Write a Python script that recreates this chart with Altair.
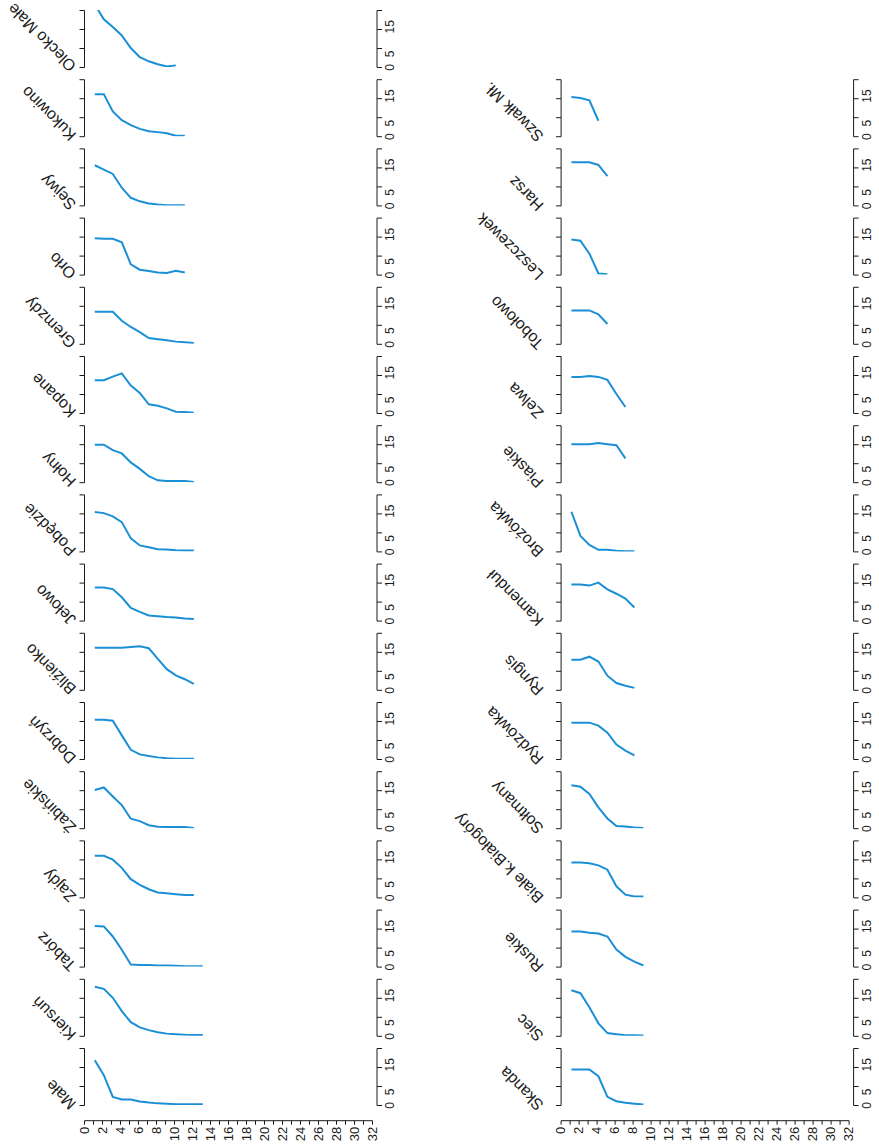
import altair as alt
import pandas as pd

# Oxygen-depth profiles for two groups of lakes (depth in m, one value per metre)
LEFT_LAKES = [
    "Olecko Małe", "Kukowino", "Sejwy", "Orło", "Gremzdy", "Kopane", "Hołny",
    "Pobędzie", "Jełowo", "Bliźienko", "Dobrzyń", "Żabińskie", "Zajdy",
    "Tabórz", "Kiersuń", "Małe",
]
LEFT_PROFILES = [
    [23.0, 17.6, 14.7, 11.6, 7.0, 3.6, 2.1, 1.0, 0.2, 0.6],
    [15.5, 15.5, 9.1, 5.9, 4.1, 2.7, 1.8, 1.5, 1.1, 0.2, 0.2],
    [14.8, 13.2, 11.6, 6.5, 2.8, 1.5, 0.7, 0.3, 0.1, 0.1, 0.1],
    [13.4, 13.2, 13.2, 11.9, 3.8, 1.8, 1.3, 0.8, 0.6, 1.4, 0.8],
    [11.8, 11.8, 11.8, 8.5, 6.2, 4.3, 2.1, 1.7, 1.3, 0.8, 0.6, 0.3],
    [12.1, 12.1, 13.4, 14.6, 10.1, 7.4, 3.2, 2.7, 1.7, 0.5, 0.4, 0.1],
    [13.8, 13.8, 11.8, 10.6, 7.3, 4.9, 2.2, 0.7, 0.4, 0.4, 0.4, 0.1],
    [14.5, 14.1, 12.9, 10.8, 4.8, 2.2, 1.5, 0.8, 0.7, 0.4, 0.3, 0.3],
    [12.2, 12.2, 11.6, 8.6, 4.7, 3.2, 1.9, 1.6, 1.3, 1.1, 0.8, 0.6],
    [15.5, 15.5, 15.5, 15.5, 15.8, 16.0, 15.3, 11.4, 7.6, 5.3, 3.9, 2.2],
    [14.5, 14.5, 14.1, 8.7, 3.4, 1.7, 1.1, 0.6, 0.3, 0.1, 0.1, 0.1],
    [14.1, 15.0, 11.7, 8.5, 3.5, 2.6, 1.1, 0.5, 0.4, 0.4, 0.4, 0.1],
    [15.3, 15.3, 13.9, 10.9, 6.7, 4.6, 3.0, 1.8, 1.5, 1.2, 0.9, 0.9],
    [15.0, 14.8, 11.1, 6.2, 0.8, 0.6, 0.6, 0.4, 0.4, 0.3, 0.1, 0.1, 0.1],
    [18.1, 17.3, 14.0, 9.1, 5.0, 3.1, 2.1, 1.3, 0.8, 0.6, 0.4, 0.3, 0.3],
    [16.5, 11.0, 3.0, 2.0, 2.0, 1.3, 0.9, 0.6, 0.5, 0.3, 0.3, 0.3, 0.3],
]

RIGHT_LAKES = [
    "Szwałk Mł.", "Harsz", "Leszczewek", "Tobołowo", "Zelwa", "Piaskie",
    "Brożówka", "Kamenduł", "Ryngis", "Rydzówka", "Sołtmany",
    "Białe k.Białogóry", "Ruskie", "Siec", "Skanda",
]
RIGHT_PROFILES = [
    [14.4, 14.1, 13.2, 5.7],
    [15.9, 15.9, 15.9, 14.9, 10.8],
    [12.9, 12.5, 7.7, 0.4, 0.1],
    [12.3, 12.3, 12.3, 10.9, 7.3],
    [13.3, 13.3, 13.6, 13.3, 12.2, 7.0, 2.2],
    [14.0, 14.0, 14.0, 14.4, 14.0, 13.6, 8.8],
    [14.6, 5.7, 2.4, 0.6, 0.6, 0.2, 0.1, 0.1],
    [13.3, 13.3, 12.9, 14.0, 11.5, 9.9, 8.1, 4.8],
    [11.1, 11.1, 12.2, 10.4, 5.2, 2.5, 1.5, 0.7],
    [13.4, 13.4, 13.4, 12.3, 9.7, 5.3, 3.1, 1.3],
    [15.8, 15.3, 12.6, 7.7, 3.6, 0.8, 0.6, 0.3, 0.1],
    [12.9, 12.9, 12.6, 11.8, 10.2, 4.1, 1.0, 0.3, 0.3],
    [12.9, 12.9, 12.5, 12.2, 11.1, 6.3, 3.6, 1.8, 0.4],
    [16.8, 15.7, 10.5, 4.6, 1.0, 0.6, 0.2, 0.2, 0.1],
    [13.1, 13.1, 13.1, 10.6, 3.0, 1.4, 0.8, 0.5, 0.2],
]

DEPTH_TICKS = list(range(0, 33))
FRAME_TICKS = [0, 7, 14, 21]
VALUE_LABELS = [0, 5, 15]

BLUE = "#1a8fd6"
INK = "#1a1a1a"
FONT = "Liberation Sans"

PANEL_W = 292.5
PANEL_H = 57
ROW_GAP = 12.2
COL_GAP = 184.1


def panel(name, profile, name_dx, name_dy):
    df = pd.DataFrame({"depth": list(range(1, len(profile) + 1)), "value": profile})
    xs = alt.Scale(domain=[-0.2, 32.3], nice=False, zero=False)
    ys = alt.Scale(domain=[0, 21], nice=False, zero=True)

    left_axis = alt.Axis(
        orient="left", values=FRAME_TICKS, labels=False, tickSize=5,
        domainColor=INK, tickColor=INK, grid=False, title=None,
    )
    right_values = sorted(set(FRAME_TICKS + VALUE_LABELS))
    label_test = " || ".join(f"datum.value === {v}" for v in VALUE_LABELS)
    hidden_tick = " || ".join(
        f"datum.value === {v}" for v in VALUE_LABELS if v not in FRAME_TICKS
    )
    right_axis = alt.Axis(
        orient="right", values=right_values, tickSize=5,
        tickOpacity={"condition": {"test": hidden_tick, "value": 0}, "value": 1},
        labelExpr=f"({label_test}) ? datum.label : ''",
        labelAngle=-90, labelFontSize=12, labelFont=FONT, labelColor=INK,
        labelPadding=3, labelOverlap=False, labelFlush=False, labelBound=False,
        domainColor=INK, tickColor=INK, grid=False, title=None,
    )

    line = alt.Chart(df).mark_line(color=BLUE, strokeWidth=2, clip=True).encode(
        x=alt.X("depth:Q", scale=xs, axis=alt.Axis(
            domain=True, domainColor=INK, ticks=False, labels=False,
            grid=False, title=None)),
        y=alt.Y("value:Q", scale=ys, axis=left_axis),
    )
    frame = alt.Chart(df).mark_line(opacity=0).encode(
        x=alt.X("depth:Q", scale=xs, axis=None),
        y=alt.Y("value:Q", scale=ys, axis=right_axis),
    )
    title = alt.Chart(pd.DataFrame({"lake": [name]})).mark_text(
        angle=225, align="left", baseline="alphabetic",
        font=FONT, fontSize=16, color=INK,
    ).encode(
        text="lake:N",
        x=alt.value(name_dx),
        y=alt.value(PANEL_H + name_dy),
    )
    return (
        alt.layer(line, frame, title)
        .resolve_axis(y="independent")
        .properties(width=PANEL_W, height=PANEL_H)
    )


def depth_axis():
    df = pd.DataFrame({"depth": DEPTH_TICKS})
    return alt.Chart(df).mark_tick(opacity=0).encode(
        x=alt.X("depth:Q", scale=alt.Scale(domain=[0, 32], nice=False),
                axis=alt.Axis(
                    values=DEPTH_TICKS,
                    labelExpr="datum.value % 2 === 0 ? datum.label : ''",
                    labelAngle=-90, tickSize=4, labelFontSize=13,
                    labelFont=FONT, labelColor=INK, labelPadding=2,
                    labelOverlap=False, labelFlush=False, labelBound=False,
                    domainColor=INK, tickColor=INK, grid=False, title=None)),
    ).properties(width=288, height=3.0)


def spacer():
    return alt.Chart(pd.DataFrame({"depth": [0]})).mark_point(opacity=0).properties(
        width=PANEL_W, height=PANEL_H
    )


left_col = alt.vconcat(
    *[panel(n, p, -7, -2) for n, p in zip(LEFT_LAKES, LEFT_PROFILES)],
    depth_axis(),
    spacing=ROW_GAP, bounds="flush",
)
right_col = alt.vconcat(
    spacer(),
    *[panel(n, p, -16, -1) for n, p in zip(RIGHT_LAKES, RIGHT_PROFILES)],
    depth_axis(),
    spacing=ROW_GAP, bounds="flush",
)

# with flush bounds a nested column counts as zero width, so the gap spans
# the left column's panel width as well
chart = (
    alt.hconcat(left_col, right_col, spacing=PANEL_W + COL_GAP, bounds="flush")
    .properties(padding={"left": 4, "top": 0, "right": 0, "bottom": 0},
                background="white")
    .configure_view(stroke=None)
)

chart.save("out.html", embed_options={"renderer": "svg", "actions": False})
